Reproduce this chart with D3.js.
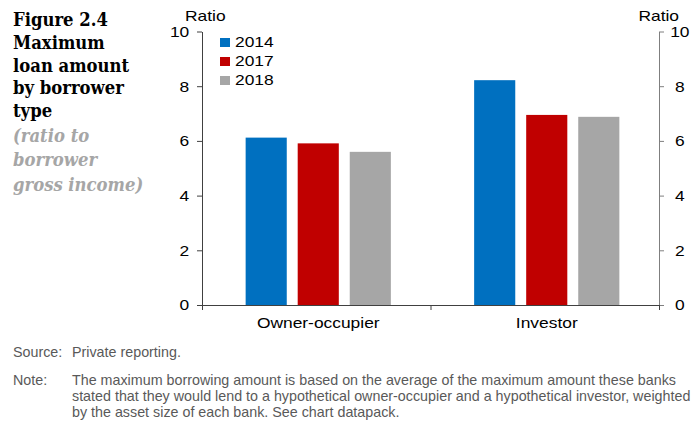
<!DOCTYPE html>
<html>
<head>
<meta charset="utf-8">
<script src="https://cdn.jsdelivr.net/npm/d3@7"></script>
<style>
  html, body { margin: 0; padding: 0; background: #fff; }
  svg { display: block; }
</style>
</head>
<body>
<svg id="chart" width="700" height="425"></svg>
<script>
// ---- data ----
const categories = ["Owner-occupier", "Investor"];
const years = ["2014", "2017", "2018"];
const values2014 = [6.12, 8.22];
const values2017 = [5.91, 6.95];
const values2018 = [5.6, 6.88];
const yTicks = [0, 2, 4, 6, 8, 10];
const titleLines = ["Figure 2.4", "Maximum", "loan amount", "by borrower", "type"];
const subtitleLines = ["(ratio to", "borrower", "gross income)"];
const noteLines = [
  "The maximum borrowing amount is based on the average of the maximum amount these banks",
  "stated that they would lend to a hypothetical owner-occupier and a hypothetical investor, weighted",
  "by the asset size of each bank. See chart datapack."
];

(function () {
const seriesValues = [values2014, values2017, values2018];
const colors = ["#0070C0", "#C00000", "#A6A6A6"];
const SX = 1.16;
const sans = "'Liberation Sans', Arial, sans-serif";
const serif = "'DejaVu Serif Condensed', 'DejaVu Serif', serif";

const svg = d3.select("#chart");

const pLeft = 202, pRight = 659, pTop = 31.5, pBottom = 305;

const y = d3.scaleLinear().domain([0, 10]).range([pBottom, pTop]);
const x0 = d3.scaleBand().domain(categories).range([pLeft, pRight]).padding(0);
const x1 = d3.scaleBand().domain(years).range([0, x0.bandwidth()])
  .paddingInner(0.21).paddingOuter(0.8);

function stretchText(sel) {
  sel.each(function () {
    const t = d3.select(this);
    const xx = +t.attr("x") || 0, yy = +t.attr("y") || 0;
    t.attr("x", 0).attr("y", 0)
      .attr("transform", `translate(${xx},${yy}) scale(${SX},1)`);
  });
}

// ---- bars ----
const groups = svg.append("g").selectAll("g")
  .data(categories)
  .join("g")
  .attr("transform", d => `translate(${x0(d) + 2},0)`);

groups.selectAll("rect")
  .data((d, i) => years.map((yr, k) => ({ yr, k, v: seriesValues[k][i] })))
  .join("rect")
  .attr("x", d => x1(d.yr))
  .attr("width", x1.bandwidth())
  .attr("y", d => y(d.v))
  .attr("height", d => y(0) - y(d.v))
  .attr("fill", d => colors[d.k]);

// ---- left axis ----
const leftAxis = svg.append("g")
  .attr("transform", `translate(${pLeft},0)`)
  .call(d3.axisLeft(y).tickValues(yTicks).tickSize(5).tickSizeOuter(0).tickPadding(8));
leftAxis.select(".domain").attr("stroke", "#404040");
leftAxis.selectAll(".tick line").attr("stroke", "#404040");
leftAxis.selectAll(".tick text")
  .attr("font-family", sans).attr("font-size", 15).attr("fill", "#000")
  .attr("x", -11)
  .attr("transform", `scale(${SX},1)`);

// ---- right axis ----
const rightAxis = svg.append("g")
  .attr("transform", `translate(${pRight},0)`)
  .call(d3.axisRight(y).tickValues(yTicks).tickSize(5).tickSizeOuter(0).tickPadding(8));
rightAxis.select(".domain").attr("stroke", "#7f7f7f");
rightAxis.selectAll(".tick line").attr("stroke", "#7f7f7f");
rightAxis.selectAll(".tick text")
  .attr("font-family", sans).attr("font-size", 15).attr("fill", "#000")
  .attr("text-anchor", "middle").attr("x", 18)
  .attr("transform", `scale(${SX},1)`);

// ---- bottom axis ----
const xEdge = d3.scaleLinear().domain([0, categories.length]).range([pLeft, pRight]);
const bottomAxis = svg.append("g")
  .attr("transform", `translate(0,${pBottom})`)
  .call(d3.axisBottom(xEdge).tickValues(d3.range(categories.length + 1))
    .tickSize(5).tickSizeOuter(0).tickFormat(""));
bottomAxis.select(".domain").attr("stroke", "#404040");
bottomAxis.selectAll(".tick line").attr("stroke", "#404040");

const catAxis = svg.append("g")
  .attr("transform", `translate(2,${pBottom})`)
  .call(d3.axisBottom(x0).tickSize(0).tickPadding(12));
catAxis.select(".domain").remove();
catAxis.selectAll(".tick text")
  .attr("font-family", sans).attr("font-size", 15).attr("fill", "#000")
  .attr("transform", `scale(${SX},1)`);

// ---- axis titles ----
svg.append("text").attr("x", 185).attr("y", 21).text("Ratio")
  .attr("font-family", sans).attr("font-size", 15).attr("fill", "#000")
  .call(stretchText);
svg.append("text").attr("x", 679).attr("y", 21).text("Ratio")
  .attr("text-anchor", "end")
  .attr("font-family", sans).attr("font-size", 15).attr("fill", "#000")
  .call(stretchText);

// ---- legend ----
const legend = svg.append("g").selectAll("g")
  .data(years)
  .join("g")
  .attr("transform", (d, i) => `translate(220,${38 + i * 19})`);
legend.append("rect").attr("width", 10).attr("height", 9)
  .attr("fill", (d, i) => colors[i]);
legend.append("text").attr("x", 15).attr("y", 9).text(d => d)
  .attr("font-family", sans).attr("font-size", 15).attr("fill", "#000")
  .call(stretchText);

// ---- title ----
svg.append("g").selectAll("text")
  .data(titleLines)
  .join("text")
  .attr("x", 13).attr("y", (d, i) => 26 + i * 22.8)
  .text(d => d)
  .attr("font-family", serif).attr("font-weight", "bold")
  .attr("font-size", 18.3).attr("fill", "#000");

svg.append("g").selectAll("text")
  .data(subtitleLines)
  .join("text")
  .attr("x", 13).attr("y", (d, i) => 142 + i * 24.3)
  .text(d => d)
  .attr("font-family", serif).attr("font-weight", "bold").attr("font-style", "italic")
  .attr("font-size", 18.3).attr("fill", "#A6A6A6");

// ---- source / note ----
const noteColor = "#595959";
const noteSize = 14.3;
svg.append("text").attr("x", 13).attr("y", 357).text("Source:")
  .attr("font-family", sans).attr("font-size", noteSize).attr("fill", noteColor);
svg.append("text").attr("x", 72).attr("y", 357).text("Private reporting.")
  .attr("font-family", sans).attr("font-size", noteSize).attr("fill", noteColor);
svg.append("text").attr("x", 13).attr("y", 385).text("Note:")
  .attr("font-family", sans).attr("font-size", noteSize).attr("fill", noteColor);
svg.append("g").selectAll("text")
  .data(noteLines)
  .join("text")
  .attr("x", 72).attr("y", (d, i) => 385 + i * 16)
  .text(d => d)
  .attr("font-family", sans).attr("font-size", noteSize).attr("fill", noteColor);
})();
</script>
</body>
</html>
